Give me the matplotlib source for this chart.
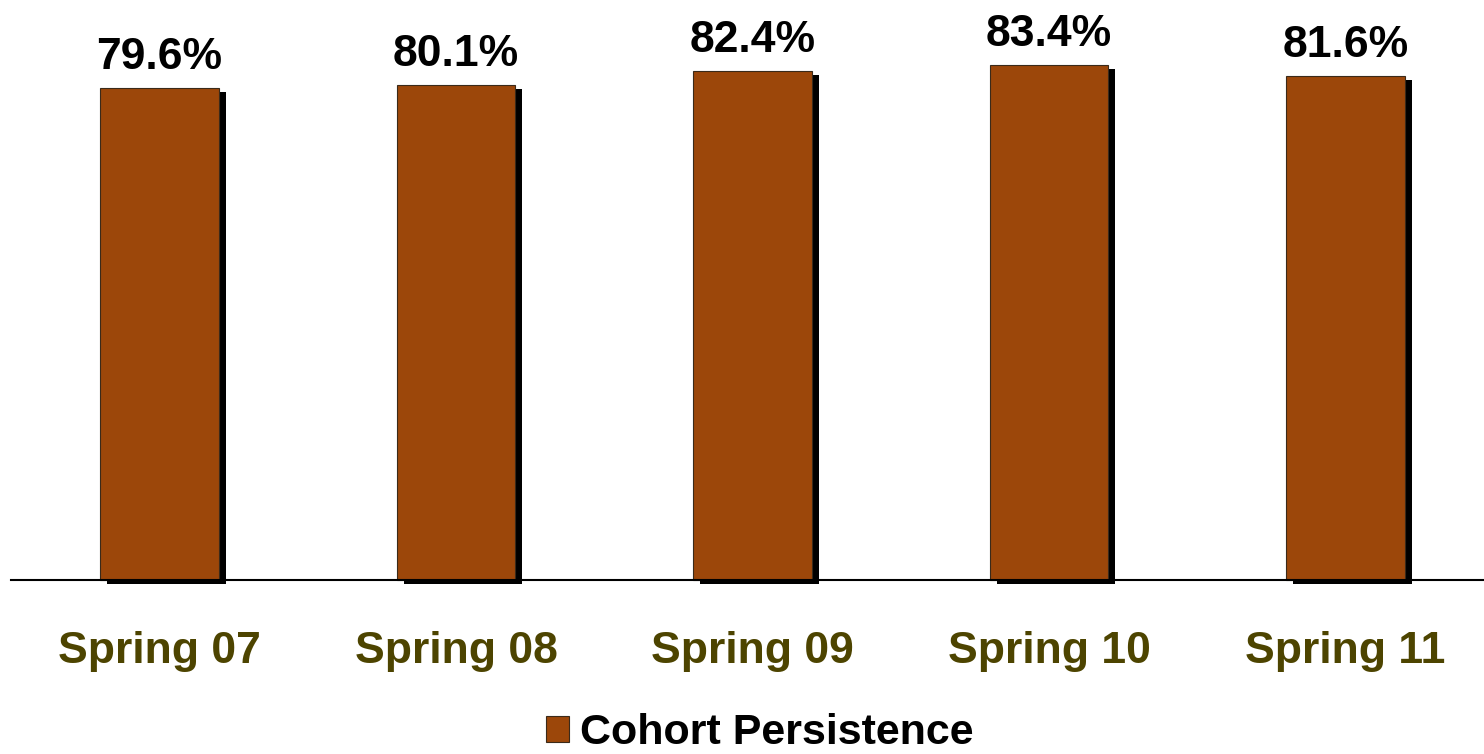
import matplotlib.pyplot as plt
import matplotlib.patheffects as pe

plt.rcParams['font.family'] = ['Liberation Sans', 'DejaVu Sans']

terms = ['Spring 07', 'Spring 08', 'Spring 09', 'Spring 10', 'Spring 11']
persistence = [79.6, 80.1, 82.4, 83.4, 81.6]

bar_color = '#9c470a'
label_color = '#4d4400'

fig = plt.figure(figsize=(14.84, 7.54), dpi=100)
ax = fig.add_axes([11.25 / 1484, 174 / 754, 1482.5 / 1484, 580 / 754])

bars = ax.bar(range(len(terms)), persistence, width=0.4, color=bar_color,
              edgecolor='#3a2a1a', linewidth=0.8, label='Cohort Persistence',
              zorder=3, clip_on=False)
for b in bars:
    b.set_path_effects([pe.SimplePatchShadow(offset=(5, -3), shadow_rgbFace='black', alpha=1.0),
                        pe.Normal()])

ax.bar_label(bars, labels=[f'{v:.1f}%' for v in persistence], padding=7,
             fontsize=32, fontweight='bold', color='black')

ax.set_xlim(-0.5, len(terms) - 0.5)
ax.set_ylim(0, 580 / 6.18)
ax.set_xticks(range(len(terms)))
ax.set_xticklabels(terms, fontsize=32, fontweight='bold', color=label_color)
ax.tick_params(axis='x', length=0, pad=37)
ax.set_yticks([])
for s in ['top', 'left', 'right']:
    ax.spines[s].set_visible(False)
ax.spines['bottom'].set_linewidth(1.5)
ax.spines['bottom'].set_zorder(4)

leg = fig.legend(handles=[bars], labels=['Cohort Persistence'], loc='center',
                 bbox_to_anchor=(760 / 1484, 1 - 733 / 754), frameon=False,
                 prop={'size': 31, 'weight': 'bold'}, handlelength=0.54,
                 handleheight=0.54, handletextpad=0.25, borderpad=0.1)
for h in leg.legend_handles:
    h.set_path_effects([])

fig.savefig('out.png', dpi=100)
